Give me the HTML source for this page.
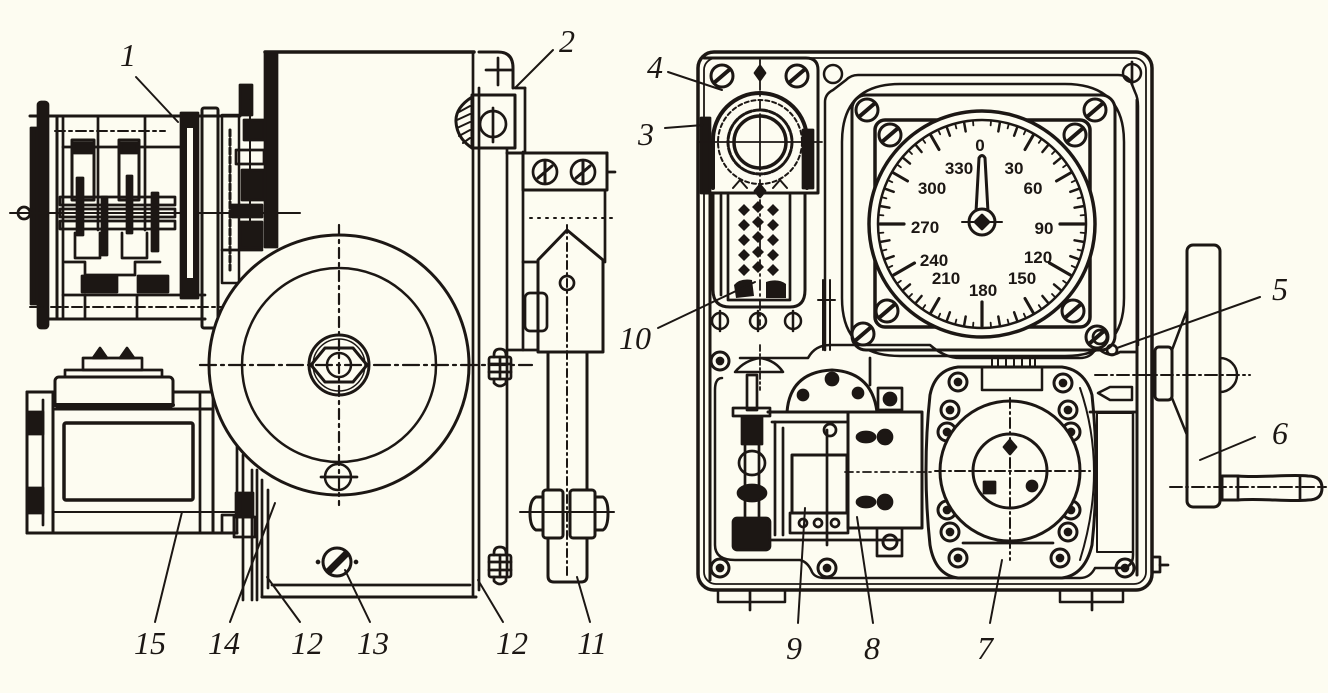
<!DOCTYPE html>
<html><head><meta charset="utf-8">
<style>
html,body{margin:0;padding:0;background:#fdfcf1;}
svg{display:block;}
.l{font-family:"Liberation Serif",serif;font-style:italic;font-size:32px;fill:#1c1714;}
.n{font-family:"Liberation Sans",sans-serif;font-weight:bold;font-size:17px;fill:#1c1714;}
</style></head><body>
<svg width="1328" height="693" viewBox="0 0 1328 693" xmlns="http://www.w3.org/2000/svg">
<rect width="1328" height="693" fill="#fdfcf1"/>
<defs>
<line id="t0" x1="982" y1="121" x2="982" y2="125" stroke-width="1.8"/>
<line id="t1" x1="982" y1="121" x2="982" y2="130" stroke-width="2.5"/>
<line id="t2" x1="982" y1="121" x2="982" y2="138" stroke-width="3"/>
<line id="t3" x1="982" y1="122" x2="982" y2="146" stroke-width="3.2"/>
<g id="bolt">
<path d="M0 -18 Q-6 -18 -6 -12 V-10 M0 -18 Q6 -18 6 -12 V-10" />
<rect x="-11" y="-10" width="22" height="22" rx="2"/>
<line x1="-11" y1="-3" x2="11" y2="-3"/>
<line x1="-11" y1="5" x2="11" y2="5"/>
<line x1="0" y1="-10" x2="0" y2="12"/>
<path d="M-6 12 V16 Q0 22 6 16 V12"/>
</g>
<g id="scr">
<circle cx="0" cy="0" r="11" stroke-width="3"/>
<line x1="-7" y1="6" x2="7" y2="-6" stroke-width="4"/>
</g>
<g id="sm">
<circle cx="0" cy="0" r="9" stroke-width="3"/>
<circle cx="0" cy="0" r="3" fill="#1c1714"/>
</g>
</defs>

<g fill="none" stroke="#1c1714" stroke-width="2.7" stroke-linecap="round" stroke-linejoin="round">

<!-- ===== gear block (1) ===== -->
<rect x="38" y="102" width="10" height="226" rx="3" fill="#1c1714"/>
<rect x="31" y="128" width="6" height="176" fill="#1c1714"/>
<circle cx="24" cy="213" r="6"/>
<line x1="10" y1="213" x2="300" y2="213" stroke-width="2"/>
<line x1="30" y1="116" x2="240" y2="116" stroke-width="3"/>
<line x1="40" y1="319" x2="205" y2="319" stroke-width="3"/>
<line x1="57" y1="116" x2="57" y2="319" stroke-width="3"/>
<line x1="63" y1="116" x2="63" y2="319"/>
<line x1="55" y1="131" x2="165" y2="131" stroke-dasharray="10 4 3 4" stroke-width="2"/>
<line x1="30" y1="307" x2="235" y2="307" stroke-dasharray="10 4 3 4" stroke-width="2"/>
<line x1="98" y1="116" x2="98" y2="230"/>
<line x1="145" y1="116" x2="145" y2="230"/>
<line x1="63" y1="147" x2="180" y2="147"/>
<rect x="72" y="140" width="22" height="60" stroke-width="3"/>
<rect x="119" y="140" width="20" height="60" stroke-width="3"/>
<rect x="74" y="143" width="18" height="10" fill="#1c1714"/>
<rect x="121" y="143" width="16" height="10" fill="#1c1714"/>
<rect x="77" y="178" width="6" height="57" fill="#1c1714"/>
<rect x="127" y="176" width="5" height="57" fill="#1c1714"/>
<rect x="152" y="193" width="6" height="58" fill="#1c1714"/>
<rect x="102" y="197" width="5" height="58" fill="#1c1714"/>
<rect x="60" y="197" width="115" height="8"/>
<rect x="60" y="209" width="115" height="8"/>
<rect x="60" y="221" width="115" height="8"/>
<path d="M75 233 V258 H100 V233"/>
<path d="M122 233 V258 H147 V233"/>
<path d="M65 262 H85 V275 H135 V262 H160"/>
<rect x="82" y="276" width="35" height="16" fill="#1c1714"/>
<rect x="138" y="276" width="30" height="16" fill="#1c1714"/>
<line x1="63" y1="295" x2="205" y2="295"/>
<line x1="85" y1="295" x2="85" y2="319"/>
<line x1="137" y1="295" x2="137" y2="319"/>
<rect x="181" y="113" width="17" height="185" fill="#1c1714"/>
<rect x="187" y="128" width="6" height="150" fill="#fdfcf1" stroke="none"/>
<rect x="202" y="108" width="16" height="220" rx="2" stroke-width="3"/>
<rect x="222" y="115" width="17" height="168" stroke-width="2.5"/>
<line x1="230" y1="130" x2="230" y2="270" stroke-dasharray="6 3" stroke-width="3"/>
<rect x="240" y="85" width="12" height="30" fill="#1c1714"/>
<rect x="244" y="120" width="20" height="20" fill="#1c1714"/>
<rect x="236" y="150" width="28" height="14"/>
<rect x="242" y="170" width="22" height="30" fill="#1c1714"/>
<rect x="232" y="205" width="30" height="12" fill="#1c1714"/>
<rect x="240" y="222" width="22" height="26" fill="#1c1714"/>
<line x1="250" y1="100" x2="250" y2="250" stroke-width="2"/>
<line x1="222" y1="250" x2="262" y2="250"/>

<!-- ===== main body ===== -->
<line x1="265" y1="52" x2="474" y2="52" stroke-width="3.5"/>
<rect x="265" y="52" width="12" height="195" fill="#1c1714"/>
<line x1="473" y1="52" x2="473" y2="597"/>
<line x1="479" y1="88" x2="479" y2="590"/>
<line x1="262" y1="480" x2="262" y2="597"/>
<line x1="268" y1="490" x2="268" y2="588"/>
<line x1="262" y1="597" x2="476" y2="597" stroke-width="3"/>
<line x1="272" y1="585" x2="470" y2="585"/>
<!-- bracket 2 -->
<path d="M479 52 H498 Q513 52 513 68 V88" stroke-width="3"/>
<line x1="486" y1="70" x2="512" y2="70"/>
<line x1="498" y1="58" x2="498" y2="85"/>
<rect x="472" y="95" width="43" height="53" stroke-width="3"/>
<circle cx="493" cy="124" r="13"/>
<line x1="493" y1="108" x2="493" y2="142"/>
<path d="M472 97 Q455 108 456 122 Q457 138 472 148" stroke-width="3"/>
<path d="M459 112 L470 106 M457 120 L470 114 M457 128 L470 122 M459 136 L470 130 M463 143 L470 138" stroke-width="2"/>
<line x1="515" y1="88" x2="525" y2="88"/>
<line x1="525" y1="88" x2="525" y2="152"/>
<line x1="507" y1="148" x2="507" y2="575"/>
<line x1="523" y1="152" x2="523" y2="350"/>
<line x1="507" y1="350" x2="537" y2="350"/>

<!-- ===== column 11 ===== -->
<line x1="507" y1="153" x2="607" y2="153" stroke-width="3"/>
<rect x="523" y="153" width="84" height="37" stroke-width="3"/>
<circle cx="545" cy="172" r="12"/><path d="M538 178 L552 166 M545 162 V182" stroke-width="3"/>
<circle cx="583" cy="172" r="12"/><path d="M576 178 L590 166 M583 162 V182" stroke-width="3"/>
<line x1="607" y1="172" x2="615" y2="172"/>
<line x1="605" y1="190" x2="605" y2="262"/>
<line x1="530" y1="218" x2="616" y2="218" stroke-dasharray="2 6" stroke-width="2"/>
<path d="M538 352 V260 L567 230 L603 260 V352 Z" stroke-width="3"/>
<rect x="525" y="293" width="22" height="38" rx="5"/>
<line x1="523" y1="262" x2="537" y2="262"/>
<circle cx="567" cy="283" r="7"/>
<path d="M548 352 V576 Q548 582 554 582 H581 Q587 582 587 576 V352" stroke-width="3"/>
<rect x="543" y="490" width="20" height="48" rx="3" fill="#fdfcf1" stroke-width="3"/>
<rect x="570" y="490" width="25" height="48" rx="3" fill="#fdfcf1" stroke-width="3"/>
<path d="M543 497 H536 Q530 500 530 513 Q530 527 536 530 H543" stroke-width="3"/>
<path d="M595 497 H603 Q608 500 608 513 Q608 527 603 530 H595" stroke-width="3"/>
<line x1="520" y1="512" x2="614" y2="512" stroke-width="2"/>
<line x1="567" y1="225" x2="567" y2="578" stroke-dasharray="8 4 2 4" stroke-width="2"/>
<use href="#bolt" x="500" y="367"/>
<use href="#bolt" x="500" y="565"/>

<!-- ===== motor 15 ===== -->
<rect x="27" y="392" width="26" height="141" stroke-width="3"/>
<line x1="43" y1="400" x2="43" y2="525"/>
<rect x="27" y="412" width="16" height="22" fill="#1c1714"/>
<rect x="27" y="488" width="16" height="25" fill="#1c1714"/>
<line x1="27" y1="392" x2="213" y2="392" stroke-width="3"/>
<rect x="53" y="409" width="160" height="124" stroke-width="3"/>
<rect x="64" y="423" width="129" height="77" rx="2" stroke-width="3.5"/>
<line x1="53" y1="512" x2="240" y2="512" stroke-width="2"/>
<line x1="200" y1="392" x2="200" y2="533"/>
<line x1="27" y1="533" x2="237" y2="533" stroke-width="3"/>
<rect x="55" y="377" width="118" height="30" rx="4" stroke-width="3" fill="#fdfcf1"/>
<line x1="55" y1="405" x2="173" y2="405" stroke-width="4"/>
<rect x="65" y="370" width="97" height="7"/>
<rect x="83" y="358" width="59" height="12"/>
<path d="M93 358 L100 348 L107 358 Z M120 358 L127 348 L134 358 Z" fill="#1c1714"/>
<line x1="213" y1="392" x2="213" y2="533"/>
<line x1="237" y1="445" x2="237" y2="533"/>
<rect x="222" y="515" width="12" height="18"/>
<!-- coupling 14 -->
<rect x="236" y="493" width="17" height="24" fill="#1c1714"/>
<rect x="234" y="517" width="21" height="20"/>
<line x1="243" y1="455" x2="243" y2="600"/>
<line x1="252" y1="470" x2="252" y2="600"/>
<line x1="257" y1="470" x2="257" y2="600"/>

<!-- ===== disc ===== -->
<circle cx="339" cy="365" r="130" fill="#fdfcf1" stroke-width="3"/>
<circle cx="339" cy="365" r="97" stroke-width="2.5"/>
<circle cx="339" cy="365" r="30" stroke-width="3"/>
<circle cx="339" cy="365" r="26" stroke-width="1.5"/>
<polygon points="311,365 325,348 353,348 367,365 353,382 325,382" stroke-width="3"/>
<circle cx="339" cy="365" r="12" stroke-width="2.5"/>
<circle cx="338" cy="477" r="13" stroke-width="2.5"/>
<line x1="321" y1="477" x2="357" y2="477"/>
<line x1="200" y1="365" x2="532" y2="365" stroke-dasharray="16 5 3 5" stroke-width="2.2"/>
<line x1="339" y1="225" x2="339" y2="505" stroke-dasharray="10 5 3 5" stroke-width="2.2"/>
<!-- screw 13 -->
<circle cx="337" cy="562" r="14" stroke-width="3"/>
<path d="M327 570 L345 552 L348 555 L330 573 Z" fill="#1c1714"/>
<circle cx="318" cy="562" r="1" fill="#1c1714"/>
<circle cx="356" cy="562" r="1" fill="#1c1714"/>

<!-- ===== right panel frame ===== -->
<rect x="698" y="52" width="454" height="538" rx="16" stroke-width="3.5"/>
<rect x="704" y="58" width="442" height="526" rx="12" stroke-width="1.8"/>
<line x1="1137" y1="100" x2="1137" y2="575" stroke-width="3"/>
<rect x="718" y="590" width="67" height="12" stroke-width="2.5"/>
<rect x="1060" y="590" width="63" height="12" stroke-width="2.5"/>
<line x1="750" y1="590" x2="750" y2="610"/>
<line x1="1092" y1="590" x2="1092" y2="610"/>
<path d="M1152 557 H1160 V572 H1152" /><line x1="1160" y1="565" x2="1168" y2="565"/>

<!-- connector panel -->
<path d="M704 58 H806 Q818 58 818 70 V193 H704" stroke-width="3"/>
<rect x="701" y="118" width="9" height="75" fill="#1c1714"/>
<line x1="710" y1="193" x2="710" y2="580" stroke-width="3"/>
<use href="#scr" x="722" y="76"/>
<use href="#scr" x="797" y="76"/>
<path d="M760 66 L765 73 L760 80 L755 73 Z" fill="#1c1714"/>
<line x1="760" y1="60" x2="760" y2="325" stroke-dasharray="10 4 2 4" stroke-width="1.8"/>
<path d="M713 188 V140 A47 47 0 0 1 807 140 V188" stroke-width="4"/>
<circle cx="760" cy="142" r="42" stroke-width="2" stroke-dasharray="4 3"/>
<circle cx="760" cy="142" r="32" stroke-width="3" stroke-dasharray="6 2"/>
<circle cx="760" cy="142" r="26" stroke-width="3.5" fill="#fdfcf1"/>
<line x1="700" y1="142" x2="822" y2="142" stroke-width="1.8"/>
<line x1="760" y1="115" x2="760" y2="170" stroke-width="1.8"/>
<rect x="803" y="130" width="10" height="58" fill="#1c1714"/>
<path d="M733 188 L740 180 L747 188 M773 188 L780 180 L787 188" stroke-width="2"/>
<path d="M760 185 L765 191 L760 197 L755 191 Z" fill="#1c1714"/>
<path d="M713 193 V290 Q713 307 730 307 H790 Q805 307 805 290 V193" stroke-width="3"/>
<path d="M728 195 V300 H790 V195"/>
<line x1="721" y1="195" x2="721" y2="295"/>
<g fill="#1c1714" stroke="none">
<path d="M744 204 l6 6 l-6 6 l-6 -6 Z M758 201 l6 6 l-6 6 l-6 -6 Z M773 204 l6 6 l-6 6 l-6 -6 Z"/>
<path d="M744 219 l6 6 l-6 6 l-6 -6 Z M758 216 l6 6 l-6 6 l-6 -6 Z M773 219 l6 6 l-6 6 l-6 -6 Z"/>
<path d="M744 234 l6 6 l-6 6 l-6 -6 Z M758 231 l6 6 l-6 6 l-6 -6 Z M773 234 l6 6 l-6 6 l-6 -6 Z"/>
<path d="M744 249 l6 6 l-6 6 l-6 -6 Z M758 246 l6 6 l-6 6 l-6 -6 Z M773 249 l6 6 l-6 6 l-6 -6 Z"/>
<path d="M744 264 l6 6 l-6 6 l-6 -6 Z M758 261 l6 6 l-6 6 l-6 -6 Z M773 264 l6 6 l-6 6 l-6 -6 Z"/>
<path d="M734 285 Q740 278 752 280 L754 296 L736 298 Z M766 282 Q778 278 786 284 L786 298 L766 298 Z"/>
</g>
<g stroke-width="2.5">
<circle cx="720" cy="321" r="8"/><line x1="720" y1="311" x2="720" y2="331"/>
<circle cx="758" cy="321" r="8"/><line x1="758" y1="311" x2="758" y2="331"/>
<circle cx="793" cy="321" r="8"/><line x1="793" y1="311" x2="793" y2="331"/>
</g>

<!-- dial plate -->
<circle cx="833" cy="74" r="9" stroke-width="2.5"/>
<circle cx="1132" cy="73" r="9" stroke-width="2.5"/>
<line x1="1132" y1="62" x2="1132" y2="84"/>
<path d="M825 350 V102 Q825 94 833 90 L846 80 Q851 75 858 75 H1118 Q1127 75 1131 82 L1135 92 Q1138 98 1138 106 V345" stroke-width="2.5"/>
<path d="M823 280 V350 M830 280 V350 M818 300 H835" stroke-width="2"/>
<path d="M900 84 H1065 Q1124 84 1124 142 V298 Q1124 356 1065 356 H900 Q842 356 842 298 V142 Q842 84 900 84 Z" stroke-width="2.5"/>
<rect x="852" y="95" width="263" height="255" rx="14" stroke-width="3" fill="#fdfcf1"/>
<rect x="875" y="120" width="215" height="207" rx="10" stroke-width="3.5"/>
<use href="#scr" x="867" y="110"/>
<use href="#scr" x="1095" y="110"/>
<use href="#scr" x="863" y="334"/>
<use href="#scr" x="1097" y="337"/>
<use href="#scr" x="890" y="135"/>
<use href="#scr" x="1075" y="135"/>
<use href="#scr" x="887" y="311"/>
<use href="#scr" x="1073" y="311"/>

<!-- dial -->
<circle cx="982" cy="224" r="113" fill="#fdfcf1" stroke-width="3.5"/>
<circle cx="982" cy="224" r="104" stroke-width="2.5"/>
<use href="#t0" transform="rotate(5 982 224)"/><use href="#t1" transform="rotate(10 982 224)"/><use href="#t0" transform="rotate(15 982 224)"/><use href="#t1" transform="rotate(20 982 224)"/><use href="#t0" transform="rotate(25 982 224)"/>
<use href="#t2" transform="rotate(30 982 224)"/><use href="#t0" transform="rotate(35 982 224)"/><use href="#t1" transform="rotate(40 982 224)"/><use href="#t0" transform="rotate(45 982 224)"/><use href="#t1" transform="rotate(50 982 224)"/><use href="#t0" transform="rotate(55 982 224)"/>
<use href="#t2" transform="rotate(60 982 224)"/><use href="#t0" transform="rotate(65 982 224)"/><use href="#t1" transform="rotate(70 982 224)"/><use href="#t0" transform="rotate(75 982 224)"/><use href="#t1" transform="rotate(80 982 224)"/><use href="#t0" transform="rotate(85 982 224)"/>
<use href="#t3" transform="rotate(90 982 224)"/><use href="#t0" transform="rotate(95 982 224)"/><use href="#t1" transform="rotate(100 982 224)"/><use href="#t0" transform="rotate(105 982 224)"/><use href="#t1" transform="rotate(110 982 224)"/><use href="#t0" transform="rotate(115 982 224)"/>
<use href="#t3" transform="rotate(120 982 224)"/><use href="#t0" transform="rotate(125 982 224)"/><use href="#t1" transform="rotate(130 982 224)"/><use href="#t0" transform="rotate(135 982 224)"/><use href="#t1" transform="rotate(140 982 224)"/><use href="#t0" transform="rotate(145 982 224)"/>
<use href="#t2" transform="rotate(150 982 224)"/><use href="#t0" transform="rotate(155 982 224)"/><use href="#t1" transform="rotate(160 982 224)"/><use href="#t0" transform="rotate(165 982 224)"/><use href="#t1" transform="rotate(170 982 224)"/><use href="#t0" transform="rotate(175 982 224)"/>
<use href="#t3" transform="rotate(180 982 224)"/><use href="#t0" transform="rotate(185 982 224)"/><use href="#t1" transform="rotate(190 982 224)"/><use href="#t0" transform="rotate(195 982 224)"/><use href="#t1" transform="rotate(200 982 224)"/><use href="#t0" transform="rotate(205 982 224)"/>
<use href="#t2" transform="rotate(210 982 224)"/><use href="#t0" transform="rotate(215 982 224)"/><use href="#t1" transform="rotate(220 982 224)"/><use href="#t0" transform="rotate(225 982 224)"/><use href="#t1" transform="rotate(230 982 224)"/><use href="#t0" transform="rotate(235 982 224)"/>
<use href="#t3" transform="rotate(240 982 224)"/><use href="#t0" transform="rotate(245 982 224)"/><use href="#t1" transform="rotate(250 982 224)"/><use href="#t0" transform="rotate(255 982 224)"/><use href="#t1" transform="rotate(260 982 224)"/><use href="#t0" transform="rotate(265 982 224)"/>
<use href="#t3" transform="rotate(270 982 224)"/><use href="#t0" transform="rotate(275 982 224)"/><use href="#t1" transform="rotate(280 982 224)"/><use href="#t0" transform="rotate(285 982 224)"/><use href="#t1" transform="rotate(290 982 224)"/><use href="#t0" transform="rotate(295 982 224)"/>
<use href="#t2" transform="rotate(300 982 224)"/><use href="#t0" transform="rotate(305 982 224)"/><use href="#t1" transform="rotate(310 982 224)"/><use href="#t0" transform="rotate(315 982 224)"/><use href="#t1" transform="rotate(320 982 224)"/><use href="#t0" transform="rotate(325 982 224)"/>
<use href="#t2" transform="rotate(330 982 224)"/><use href="#t0" transform="rotate(335 982 224)"/><use href="#t1" transform="rotate(340 982 224)"/><use href="#t0" transform="rotate(345 982 224)"/><use href="#t1" transform="rotate(350 982 224)"/><use href="#t0" transform="rotate(355 982 224)"/>
<path d="M979 158 Q982 153 985 158 L988 212 H976 Z" fill="#fdfcf1" stroke-width="3"/>
<circle cx="982" cy="222" r="13" fill="#fdfcf1" stroke-width="3"/>
<path d="M982 215 L989 222 L982 229 L975 222 Z" fill="#1c1714"/>
<line x1="962" y1="222" x2="1002" y2="222" stroke-width="2"/>

<!-- handwheel -->
<rect x="1187" y="245" width="33" height="262" rx="6" stroke-width="3"/>
<rect x="1155" y="347" width="17" height="53" rx="4" stroke-width="3"/>
<path d="M1172 350 L1187 310 M1172 398 L1187 435" stroke-width="2.5"/>
<path d="M1220 358 A17 17 0 0 1 1220 392" stroke-width="2.5"/>
<path d="M1222 476 H1238 C1260 478 1290 474 1308 476 Q1322 476 1322 488 Q1322 500 1308 500 C1290 502 1260 498 1238 500 H1222 Z" stroke-width="3"/>
<line x1="1238" y1="476" x2="1238" y2="500"/>
<line x1="1300" y1="476" x2="1300" y2="500"/>
<line x1="1095" y1="375" x2="1250" y2="375" stroke-dasharray="12 4 2 4" stroke-width="2"/>
<line x1="1170" y1="487" x2="1326" y2="487" stroke-dasharray="12 4 2 4" stroke-width="2"/>
<path d="M1098 393 L1110 387 H1132 V400 H1110 Z" stroke-width="2.5"/>
<circle cx="1100" cy="337" r="7"/>
<circle cx="1112" cy="350" r="5"/>
<path d="M1080 350 H1100 Q1110 358 1120 352 H1137" />
<line x1="1090" y1="412" x2="1137" y2="412"/>

<!-- lower compartment -->
<path d="M740 358 H808 Q815 345 830 345 H930 Q945 358 960 358 H1080 Q1090 358 1095 350" stroke-width="2.5"/>
<path d="M722 378 Q715 378 715 390 V545 Q715 560 735 560 H800 Q808 562 812 572 Q815 578 825 578 H1080 Q1090 578 1095 568 H1120 Q1133 568 1133 555 V412" stroke-width="2.5"/>
<use href="#sm" x="720" y="361"/>
<use href="#sm" x="720" y="568"/>
<use href="#sm" x="827" y="568"/>
<use href="#sm" x="1125" y="568"/>
<path d="M735 372 Q745 360 760 358 Q775 360 783 372 Z" stroke-width="2.5"/>
<line x1="760" y1="345" x2="760" y2="390" stroke-dasharray="6 3 2 3" stroke-width="1.8"/>
<rect x="747" y="375" width="10" height="35"/>
<rect x="733" y="408" width="37" height="8"/>
<rect x="742" y="417" width="20" height="27" fill="#1c1714"/>
<line x1="745" y1="444" x2="745" y2="520"/><line x1="759" y1="444" x2="759" y2="520"/>
<ellipse cx="752" cy="463" rx="13" ry="12"/>
<ellipse cx="752" cy="493" rx="14" ry="8" fill="#1c1714"/>
<rect x="733" y="518" width="37" height="32" rx="4" fill="#1c1714"/>
<!-- relay dome -->
<path d="M787 412 Q790 372 832 370 Q872 372 877 412" stroke-width="3"/>
<circle cx="832" cy="379" r="6" fill="#1c1714"/>
<circle cx="803" cy="395" r="5" fill="#1c1714"/>
<circle cx="858" cy="393" r="5" fill="#1c1714"/>
<line x1="768" y1="412" x2="848" y2="412" stroke-width="3"/>
<line x1="772" y1="422" x2="848" y2="422"/>
<line x1="775" y1="422" x2="775" y2="535"/>
<line x1="783" y1="428" x2="783" y2="535"/>
<circle cx="830" cy="430" r="6"/>
<rect x="792" y="455" width="55" height="58" stroke-width="3"/>
<line x1="827" y1="430" x2="827" y2="545"/>
<rect x="790" y="513" width="58" height="20"/>
<circle cx="803" cy="523" r="4"/><circle cx="818" cy="523" r="4"/><circle cx="835" cy="523" r="4"/>
<line x1="770" y1="540" x2="900" y2="540"/>
<line x1="870" y1="358" x2="870" y2="385"/>
<rect x="878" y="388" width="24" height="22"/>
<circle cx="890" cy="399" r="6" fill="#1c1714"/>
<rect x="848" y="412" width="74" height="116" stroke-width="3" fill="#fdfcf1"/>
<ellipse cx="866" cy="437" rx="9" ry="5" fill="#1c1714"/><circle cx="885" cy="437" r="7" fill="#1c1714"/>
<ellipse cx="866" cy="502" rx="9" ry="5" fill="#1c1714"/><circle cx="885" cy="502" r="7" fill="#1c1714"/>
<line x1="845" y1="472" x2="935" y2="472" stroke-dasharray="8 4 2 4" stroke-width="1.8"/>
<rect x="877" y="528" width="25" height="28"/>
<circle cx="890" cy="542" r="7" stroke-width="3"/>
<!-- motor 7 -->
<path d="M958 367 H1062 Q1085 370 1092 395 Q1100 470 1092 545 Q1085 575 1062 578 H958 Q935 575 930 545 Q922 470 930 395 Q935 370 958 367 Z" stroke-width="3"/>
<path d="M1080 388 Q1108 470 1080 560" stroke-width="2"/>
<rect x="1097" y="413" width="36" height="139" stroke-width="2"/>
<rect x="992" y="357" width="43" height="10" stroke-width="2"/>
<path d="M998 358 V366 M1006 358 V366 M1014 358 V366 M1022 358 V366 M1030 358 V366" stroke-width="2"/>
<rect x="982" y="367" width="60" height="23" stroke-width="2.5"/>
<line x1="963" y1="543" x2="1053" y2="543"/>
<use href="#sm" x="958" y="382"/><use href="#sm" x="950" y="410"/><use href="#sm" x="947" y="432"/>
<use href="#sm" x="947" y="510"/><use href="#sm" x="950" y="532"/><use href="#sm" x="958" y="558"/>
<use href="#sm" x="1063" y="383"/><use href="#sm" x="1068" y="410"/><use href="#sm" x="1071" y="432"/>
<use href="#sm" x="1071" y="510"/><use href="#sm" x="1068" y="532"/><use href="#sm" x="1060" y="558"/>
<circle cx="1010" cy="471" r="70" fill="#fdfcf1" stroke-width="3"/>
<circle cx="1010" cy="471" r="37" stroke-width="3"/>
<line x1="935" y1="471" x2="1090" y2="471" stroke-dasharray="10 4 2 4" stroke-width="2"/>
<line x1="1010" y1="398" x2="1010" y2="560" stroke-dasharray="10 4 2 4" stroke-width="2"/>
<path d="M1010 440 L1016 447 L1010 454 L1004 447 Z" fill="#1c1714"/>
<rect x="984" y="482" width="11" height="11" fill="#1c1714"/>
<circle cx="1032" cy="486" r="5" fill="#1c1714"/>

<!-- ===== leaders ===== -->
<g stroke-width="2">
<line x1="136" y1="77" x2="178" y2="122"/>
<line x1="553" y1="50" x2="515" y2="88"/>
<line x1="668" y1="72" x2="722" y2="90"/>
<line x1="665" y1="128" x2="703" y2="125"/>
<line x1="658" y1="328" x2="755" y2="282"/>
<line x1="1260" y1="297" x2="1117" y2="348"/>
<line x1="1255" y1="437" x2="1200" y2="460"/>
<line x1="155" y1="622" x2="182" y2="512"/>
<line x1="230" y1="622" x2="275" y2="503"/>
<line x1="300" y1="622" x2="267" y2="577"/>
<line x1="370" y1="622" x2="345" y2="570"/>
<line x1="503" y1="622" x2="478" y2="580"/>
<line x1="590" y1="622" x2="577" y2="577"/>
<line x1="798" y1="623" x2="805" y2="508"/>
<line x1="873" y1="623" x2="857" y2="517"/>
<line x1="990" y1="623" x2="1002" y2="560"/>
</g>
</g>

<!-- dial numbers -->
<g class="n" text-anchor="middle">
<text x="980" y="151">0</text>
<text x="1014" y="174">30</text>
<text x="1033" y="194">60</text>
<text x="1044" y="234">90</text>
<text x="1038" y="263">120</text>
<text x="1022" y="284">150</text>
<text x="983" y="296">180</text>
<text x="946" y="284">210</text>
<text x="934" y="266">240</text>
<text x="925" y="233">270</text>
<text x="932" y="194">300</text>
<text x="959" y="174">330</text>
</g>

<!-- labels -->
<g class="l" text-anchor="middle">
<text x="128" y="66">1</text>
<text x="567" y="52">2</text>
<text x="655" y="78">4</text>
<text x="646" y="145">3</text>
<text x="635" y="349">10</text>
<text x="1280" y="300">5</text>
<text x="1280" y="444">6</text>
<text x="150" y="654">15</text>
<text x="224" y="654">14</text>
<text x="307" y="654">12</text>
<text x="373" y="654">13</text>
<text x="512" y="654">12</text>
<text x="592" y="654">11</text>
<text x="794" y="659">9</text>
<text x="872" y="659">8</text>
<text x="985" y="659">7</text>
</g>
</svg>
</body></html>
